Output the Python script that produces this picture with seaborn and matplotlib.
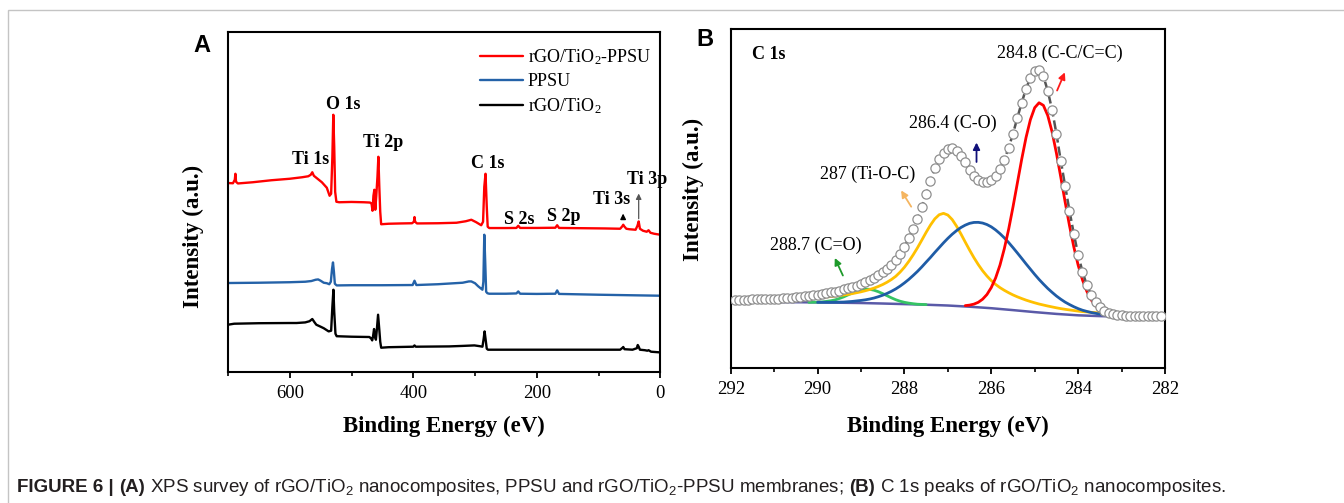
import numpy as np
import pandas as pd
import matplotlib
matplotlib.use("Agg")
import matplotlib.pyplot as plt
import seaborn as sns
from matplotlib.patches import Rectangle

# ---------------- Panel A: XPS survey ----------------
red_ev = [700, 692, 689, 688, 687, 684, 660, 630, 600, 580, 570, 566, 563.5, 561, 556, 548, 540, 535.5,
          533, 531, 529.5, 528, 526.5, 524.5, 520, 500, 480, 470, 467.5, 466, 464.5, 463, 461.5, 460, 458,
          456.5, 455, 453.5, 452, 440, 420, 402, 399, 398, 397, 394, 360, 330, 315, 306, 298, 290, 287, 285,
          283, 281, 279.5, 277, 250, 233, 230, 227, 200, 170, 167, 164, 120, 90, 65, 61.5, 60, 58.5, 55, 50,
          40, 37, 35, 33, 28, 22, 19, 16, 10, 0]
red_int = [188.7, 188.5, 192, 198, 190, 188.3, 189.5, 191.5, 193, 194.5, 195.5, 197, 199.5, 196, 193.5, 189.5,
           184, 176, 178, 215, 257, 225, 180, 170, 169.5, 169.8, 169.5, 169.2, 168, 161, 176, 182, 162, 175,
           195, 215, 185, 160, 147.5, 148, 148.3, 148.5, 150, 154.7, 150, 148.3, 148.5, 149, 150.5, 152, 149.5,
           146.5, 150, 185, 198, 165, 145, 143.7, 143.7, 143.8, 146, 143.8, 143.8, 144, 146.5, 143.8, 143.5,
           143.3, 143, 145.5, 147, 145.5, 143, 142.5, 142, 146, 150.3, 143, 141, 140, 141.5, 139, 138, 137]

blue_ev = [700, 650, 600, 575, 565, 558, 554, 550, 545, 540, 536, 533.5, 531.5, 530, 528.5, 527, 524, 500,
           450, 401, 398, 395, 360, 320, 310, 306, 300, 295, 290, 288, 286.5, 285, 283.5, 282, 280, 277, 250,
           233, 230, 227, 200, 170, 167, 164, 100, 50, 0]
blue_int = [88.7, 89, 89.5, 90, 90.7, 92, 92.3, 91, 89, 88.5, 87.5, 90, 103, 109.3, 100, 88, 86.3, 86.5,
            86.5, 86.7, 91, 86.7, 87.5, 89, 90.3, 90.3, 88.5, 85.5, 83, 82, 90, 137, 110, 80, 78.5, 78, 78,
            78.3, 80.3, 78, 77.8, 78, 81.3, 77.8, 77, 76.5, 76]

black_ev = [700, 690, 650, 600, 589, 575, 568, 563.5, 560, 557, 550, 545, 540, 537, 533, 531, 529.3, 528, 526,
            524, 500, 471, 468, 466.5, 465, 463.5, 462, 460.5, 459, 457, 455, 453.5, 452, 440, 400, 398, 396,
            342, 320, 301, 292, 288, 286, 284.5, 283, 281, 279, 250, 200, 100, 65, 61, 60, 58, 45, 38, 36.5,
            35, 33, 25, 21, 19, 15, 0]
black_int = [47, 48, 48.5, 48.7, 48.7, 49.3, 50.5, 52.7, 49.5, 47, 45, 43.5, 41.5, 40.3, 41, 65, 82, 60, 38,
             35.5, 35, 34.7, 33, 31.3, 36, 42.7, 35, 32, 42, 57, 42, 30, 24, 24.5, 25, 26.3, 25, 25.3, 25.8,
             26.3, 25.5, 25, 33, 40.3, 33, 23, 22, 22, 22, 22, 22, 24, 24.7, 22.5, 22, 23.5, 26.7, 25, 22,
             21.5, 21, 21.5, 20, 19.3]

survey_labels = ["rGO/TiO$_2$-PPSU", "PPSU", "rGO/TiO$_2$"]

# ---------------- Panel B: C 1s ----------------
c1s_ev = [291.9, 291.8, 291.7, 291.6, 291.5, 291.4, 291.3, 291.2, 291.1,
          291.0, 290.9, 290.8, 290.7, 290.6, 290.5, 290.4, 290.3, 290.2, 290.1,
          290.0, 289.9, 289.8, 289.7, 289.6, 289.5, 289.4, 289.3, 289.2, 289.1,
          289.0, 288.9, 288.8, 288.7, 288.6, 288.5, 288.4, 288.3, 288.2, 288.1,
          288.0, 287.9, 287.8, 287.7, 287.6, 287.5, 287.4, 287.3, 287.2, 287.1,
          287.0, 286.9, 286.8, 286.7, 286.6, 286.5, 286.4, 286.3, 286.2, 286.1,
          286.0, 285.9, 285.8, 285.7, 285.6, 285.5, 285.4, 285.3, 285.2, 285.1,
          285.0, 284.9, 284.8, 284.7, 284.6, 284.5, 284.4, 284.3, 284.2, 284.1,
          284.0, 283.9, 283.8, 283.7, 283.6, 283.5, 283.4, 283.3, 283.2, 283.1,
          283.0, 282.9, 282.8, 282.7, 282.6, 282.5, 282.4, 282.3, 282.2, 282.1]
c1s_int = [68.0, 68.0, 68.1, 68.2, 68.3, 68.4, 68.5, 68.6, 68.8,
           69.0, 69.2, 69.5, 69.8, 70.1, 70.5, 70.9, 71.4, 71.9, 72.5,
           73.1, 73.8, 74.5, 75.3, 76.2, 77.2, 78.3, 79.5, 80.8, 82.2,
           83.8, 85.6, 87.6, 89.8, 92.4, 95.5, 99.0, 103.0, 108.0, 114.0,
           121.0, 129.5, 138.5, 149.0, 161.0, 173.5, 187.0, 199.5, 208.5, 214.5,
           218.5, 220.0, 217.0, 212.0, 205.5, 198.0, 192.0, 188.0, 186.0, 186.0,
           188.0, 192.0, 198.5, 208.0, 220.0, 234.0, 250.0, 265.0, 279.0, 290.0,
           297.0, 298.0, 291.5, 277.0, 258.0, 234.0, 207.0, 182.0, 157.0, 134.0,
           113.0, 96.0, 82.5, 73.0, 66.0, 61.0, 57.0, 54.7, 53.3, 52.6,
           52.3, 52.2, 52.1, 52.0, 52.0, 51.9, 51.9, 51.8, 51.8, 51.7]

fit_ev = [292.0, 291.9, 291.8, 291.7, 291.6, 291.5, 291.4, 291.3, 291.2, 291.1,
          291.0, 290.9, 290.8, 290.7, 290.6, 290.5, 290.4, 290.3, 290.2, 290.1,
          290.0, 289.9, 289.8, 289.7, 289.6, 289.5, 289.4, 289.3, 289.2, 289.1,
          289.0, 288.9, 288.8, 288.7, 288.6, 288.5, 288.4, 288.3, 288.2, 288.1,
          288.0, 287.9, 287.8, 287.7, 287.6, 287.5, 287.4, 287.3, 287.2, 287.1,
          287.0, 286.9, 286.8, 286.7, 286.6, 286.5, 286.4, 286.3, 286.2, 286.1,
          286.0, 285.9, 285.8, 285.7, 285.6, 285.5, 285.4, 285.3, 285.2, 285.1,
          285.0, 284.9, 284.8, 284.7, 284.6, 284.5, 284.4, 284.3, 284.2, 284.1,
          284.0, 283.9, 283.8, 283.7, 283.6, 283.5, 283.4, 283.3]

peak_tioc = [67.7, 67.8, 67.7, 67.8, 67.8, 67.9, 68.0, 68.0, 68.1, 68.2,
             68.3, 68.4, 68.5, 68.6, 68.8, 69.0, 69.1, 69.3, 69.5, 69.8,
             70.1, 70.4, 70.8, 71.2, 71.6, 72.2, 72.7, 73.4, 74.1, 75.0,
             75.9, 77.0, 78.2, 79.6, 81.3, 83.2, 85.5, 88.2, 91.4, 95.6,
             100.5, 106.3, 112.8, 119.9, 127.6, 135.4, 142.7, 148.9, 153.0, 154.4,
             152.7, 148.2, 141.6, 133.9, 125.7, 117.7, 110.1, 103.2, 97.0, 91.7,
             87.1, 83.3, 80.1, 77.4, 75.0, 72.8, 70.9, 69.2, 67.6, 66.2,
             64.9, 63.7, 62.7, 61.7, 60.8, 59.9, 59.1, 58.4, 57.8, 57.2,
             56.6, 56.1, 55.8, 55.4, 55.1, 54.7, 54.4, 54.2]
peak_co = [65.4, 65.4, 65.4, 65.4, 65.5, 65.6, 65.7, 66.0, 66.3, 66.8,
           67.3, 67.9, 68.7, 69.7, 71.0, 72.5, 74.3, 76.4, 78.8, 81.6,
           84.8, 88.3, 92.2, 96.3, 100.8, 105.6, 110.3, 115.3, 120.1, 124.9,
           129.4, 133.5, 137.1, 140.2, 142.6, 144.4, 145.3, 145.4, 144.7, 143.2,
           140.9, 137.8, 134.1, 129.9, 125.2, 120.1, 114.8, 109.4, 103.9, 98.6,
           93.3, 88.3, 83.7, 79.3, 75.4, 71.7, 68.5, 65.6, 63.2, 61.0,
           59.1, 57.5, 56.3, 55.2, 54.4, 53.6, 53.0, 52.5]
peak_cc = [62.1, 62.6, 63.6, 65.4, 68.5, 73.2,
           80.2, 89.8, 102.6, 119.0, 138.5, 160.8, 184.6, 208.4, 230.2, 248.0,
           260.1, 265.0, 262.4, 252.3, 235.9, 214.6, 190.7, 165.9, 142.3, 120.9,
           102.6, 87.8, 76.4, 67.9, 61.9, 57.8, 55.2, 53.5]
peak_c_o = [65.4, 65.5,
            65.6, 65.8, 66.3, 66.9, 67.8, 69.2, 70.8, 72.8, 74.7, 76.5,
            77.8, 78.5, 78.4, 77.5, 76.0, 74.1, 72.0, 69.9, 68.0, 66.5,
            65.4, 64.6, 64.0, 63.5, 63.3, 63.1]
base_ev = [292.0, 291.0, 290.0, 289.0, 288.5, 288.0, 287.5, 287.0, 286.5, 286.0, 285.5, 285.0,
           284.5, 284.0, 283.5, 283.3]
base_int = [66.0, 65.7, 65.3, 64.7, 64.2, 63.6, 63.0, 62.2, 61.0, 59.5, 57.6, 55.6, 53.8, 52.4, 51.6, 51.4]

# ---------------- style ----------------
sns.set_theme(style="ticks")
SERIF = ["Liberation Serif", "DejaVu Serif"]
SANS = ["Liberation Sans", "DejaVu Sans"]
plt.rcParams.update({
    "font.family": SERIF,
    "mathtext.default": "regular",
    "text.color": "black",
    "axes.labelcolor": "black",
    "axes.edgecolor": "black",
    "xtick.color": "black",
    "ytick.color": "black",
    "axes.facecolor": "white",
    "figure.facecolor": "white",
})

W, H = 1344, 503
fig = plt.figure(figsize=(W / 100, H / 100), dpi=100)
axA = fig.add_axes([228 / W, 1 - 371.7 / H, 432.3 / W, 339.4 / H])
axB = fig.add_axes([730.7 / W, 1 - 367.7 / H, 434.3 / W, 338.4 / H])


def line(ax, x, y, **kw):
    sns.lineplot(x=x, y=y, ax=ax, sort=False, estimator=None, **kw)


# ---- Panel A
line(axA, red_ev, red_int, color="#ff0000", lw=1.7, label=survey_labels[0])
line(axA, blue_ev, blue_int, color="#2462a8", lw=1.7, label=survey_labels[1])
line(axA, black_ev, black_int, color="black", lw=1.7, label=survey_labels[2])
axA.set_xlim(700, 0)
axA.set_ylim(0, 339.5)
axA.set_xticks([600, 400, 200, 0])
axA.set_xticks([700, 500, 300, 100], minor=True)
axA.legend(loc="upper left", bbox_to_anchor=(0.583, 0.957), frameon=False, fontsize=13,
           handlelength=2.4, handletextpad=0.25, labelspacing=0.36, borderpad=0, borderaxespad=0)

annA = [("O 1s", 513.4, 267), ("Ti 1s", 565.6, 212), ("Ti 2p", 448.9, 229.3), ("C 1s", 279.5, 208.7),
        ("S 2s", 228.5, 152), ("S 2p", 156, 155.3), ("Ti 3s", 79.5, 172.7), ("Ti 3p", 21.5, 192.7)]
for t, x, y in annA:
    axA.text(x, y, t, fontsize=13, fontweight="bold", ha="center", va="center", clip_on=False)
axA.annotate("", xy=(60.2, 161), xytext=(60.2, 151.3),
             arrowprops=dict(arrowstyle="-|>", color="black", lw=1.0, mutation_scale=8))
axA.annotate("", xy=(35, 181), xytext=(35, 150.3),
             arrowprops=dict(arrowstyle="-|>", color="#555555", lw=0.9, mutation_scale=8))

# ---- Panel B
line(axB, base_ev, base_int, color="#5a5aa8", lw=1.8)
line(axB, fit_ev[18:46], peak_c_o, color="#35c464", lw=2.0)
line(axB, fit_ev, peak_tioc, color="#ffc000", lw=2.0)
line(axB, fit_ev[20:], peak_co, color="#1f5ca6", lw=2.0)
line(axB, fit_ev[54:], peak_cc, color="#ff0000", lw=2.0)
line(axB, c1s_ev[:87], c1s_int[:87], color="#555555", lw=1.8, linestyle="--")
sns.scatterplot(x=c1s_ev, y=c1s_int, ax=axB, s=44, color="white", edgecolor="#8f8f8f",
                linewidth=0.9, zorder=5)
axB.set_xlim(292, 282)
axB.set_ylim(0, 338.5)
axB.set_xticks([292, 290, 288, 286, 284, 282])
axB.set_xticks([291, 289, 287, 285, 283], minor=True)

axB.text(291.52, 313, "C 1s", fontsize=13, fontweight="bold", ha="left", va="center")
annB = [("284.8 (C-C/C=C)", 284.43, 314.7), ("286.4 (C-O)", 286.88, 244.7),
        ("287 (Ti-O-C)", 288.84, 193), ("288.7 (C=O)", 290.05, 122)]
for t, x, y in annB:
    axB.text(x, y, t, fontsize=13, ha="center", va="center")
arrowsB = [((284.28, 298), (284.51, 274.7), "#ff1a1a"),
           ((286.34, 228), (286.34, 203), "#10107a"),
           ((288.11, 179.7), (287.81, 158.7), "#f5b560"),
           ((289.63, 112.3), (289.39, 89.7), "#1e9a2a")]
for head, tail, c in arrowsB:
    axB.annotate("", xy=head, xytext=tail,
                 arrowprops=dict(arrowstyle="-|>", color=c, lw=1.3, mutation_scale=10))

for ax, ylab_y, xlab_y, ylab_x in [(axA, 0.398, -0.1305, -0.0555), (axB, 0.528, -0.1427, -0.0615)]:
    ax.set_yticks([])
    for s in ax.spines.values():
        s.set_visible(True)
        s.set_linewidth(1.5)
        s.set_color("black")
    ax.tick_params(axis="x", which="major", direction="out", length=4, width=1.3, labelsize=13.5, pad=5.5)
    ax.tick_params(axis="x", which="minor", direction="out", length=3, width=1.2)
    ax.set_xlabel("Binding Energy (eV)", fontsize=16.5, fontweight="bold")
    ax.set_ylabel("Intensity (a.u.)", fontsize=16.5, fontweight="bold")
    ax.xaxis.set_label_coords(0.5, xlab_y)
    ax.yaxis.set_label_coords(ylab_x, ylab_y)

# panel letters
fig.text(201.7 / W, 1 - 45 / H, "A", fontsize=17, fontweight="bold", family=SANS, ha="center", va="center")
fig.text(705 / W, 1 - 40 / H, "B", fontsize=17, fontweight="bold", family=SANS, ha="center", va="center")

# outer frame
fig.add_artist(Rectangle((8 / W, -0.2), 1.2, 1.2 - 10 / H, transform=fig.transFigure,
                         fill=False, edgecolor="#c4c4c4", lw=1.0))

# caption
pieces = [("FIGURE 6 |", "bold"), ("(A)", "bold"),
          ("XPS survey of rGO/TiO$_2$ nanocomposites, PPSU and rGO/TiO$_2$-PPSU membranes;", "normal"),
          ("(B)", "bold"), ("C 1s peaks of rGO/TiO$_2$ nanocomposites.", "normal")]
renderer = fig.canvas.get_renderer()


def draw_caption(size):
    arts = []
    probe1 = fig.text(0, 0, "x x", fontsize=size, family=SANS)
    probe2 = fig.text(0, 0, "xx", fontsize=size, family=SANS)
    gap = probe1.get_window_extent(renderer).width - probe2.get_window_extent(renderer).width
    probe1.remove(); probe2.remove()
    x = 17.0
    for i, (t, wgt) in enumerate(pieces):
        a = fig.text(x / W, 1 - 487 / H, t, fontsize=size, fontweight=wgt, family=SANS,
                     ha="left", va="center", color="#231f20")
        arts.append(a)
        x += a.get_window_extent(renderer).width + gap
    return arts, x - gap - 17.0


arts, width = draw_caption(11)
for a in arts:
    a.remove()
draw_caption(11 * 1210 / width)

fig.savefig("out.png", dpi=100)
